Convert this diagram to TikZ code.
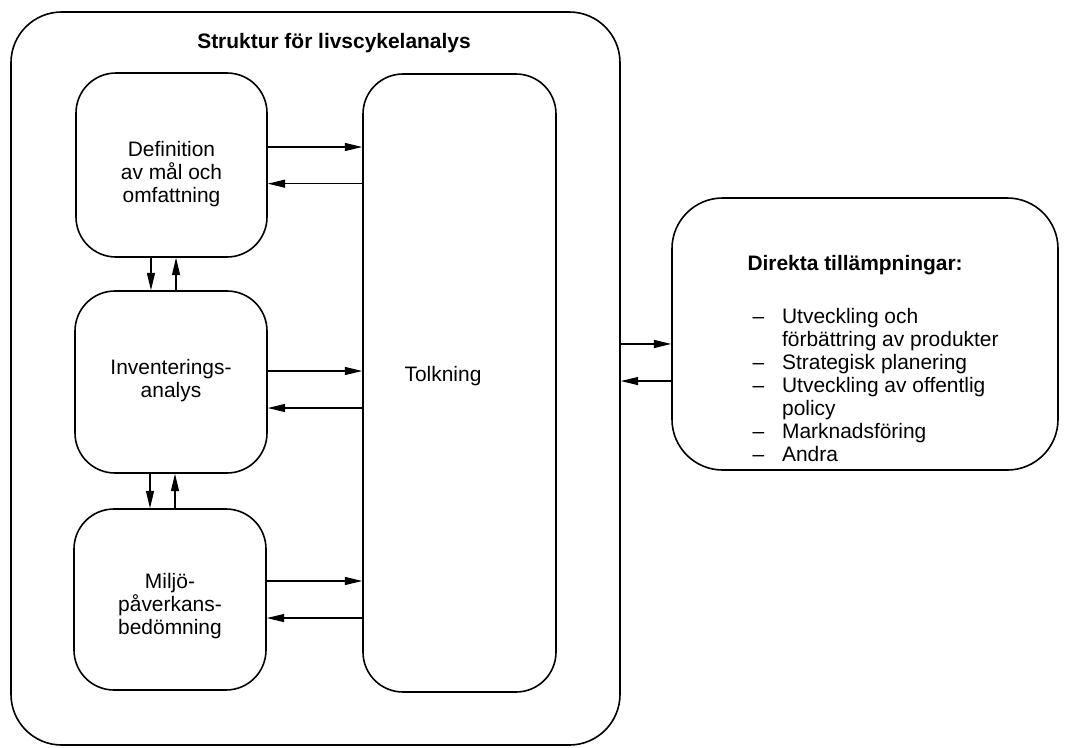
\documentclass[tikz,border=0pt]{standalone}
\usepackage{fontspec}
\setmainfont{Liberation Sans}
\usetikzlibrary{arrows.meta}
\tikzset{every picture/.style={line width=0.75pt}}
\newcommand{\lcafont}{\fontsize{15.7}{17.25}\selectfont}

\begin{document}
\begin{tikzpicture}[x=0.75pt,y=0.75pt,yscale=-1,xscale=1,
  box/.style={draw, line width=1.2pt, rounded corners=30pt, inner sep=0pt},
  lbl/.style={align=center, inner sep=0pt, font=\lcafont},
  arr/.style={-{Triangle[length=13pt,width=6pt]}, line width=0.9pt}]
\useasboundingbox (0,0) rectangle (1086,747);

%Shape: Rounded Rect [outer frame]
\node [box, rounded corners=38pt, minimum width=456.75pt, minimum height=549.75pt] (lca) at (315.5,378.5) {};
%Shape: Rounded Rect [definition]
\node [box, minimum width=143.25pt, minimum height=138pt] (def) at (171.5,165) {};
%Shape: Rounded Rect [inventory]
\node [box, minimum width=144pt, minimum height=136.5pt] (inv) at (171,382) {};
%Shape: Rounded Rect [impact]
\node [box, minimum width=144pt, minimum height=135.75pt] (imp) at (170,599.5) {};
%Shape: Rounded Rect [interpretation]
\node [box, minimum width=144.75pt, minimum height=463.5pt] (tolk) at (459.5,383) {};
%Shape: Rounded Rect [applications]
\node [box, rounded corners=38pt, minimum width=289.5pt, minimum height=204pt] (app) at (865,334) {};

%Straight Lines [definition <-> interpretation]
\draw [arr] ([yshift=-13.5pt]def.east) -- ([yshift=-13.5pt]def.east -| tolk.west);
\draw [arr] ([yshift=14pt]def.east -| tolk.west) -- ([yshift=14pt]def.east);
%Straight Lines [inventory <-> interpretation]
\draw [arr] ([yshift=-8.25pt]inv.east) -- ([yshift=-8.25pt]inv.east -| tolk.west);
\draw [arr] ([yshift=19.5pt]inv.east -| tolk.west) -- ([yshift=19.5pt]inv.east);
%Straight Lines [impact <-> interpretation]
\draw [arr] ([yshift=-13.9pt]imp.east) -- ([yshift=-13.9pt]imp.east -| tolk.west);
\draw [arr] ([yshift=13.9pt]imp.east -| tolk.west) -- ([yshift=13.9pt]imp.east);
%Straight Lines [definition <-> inventory]
\draw [arr] ([xshift=-15.4pt]def.south) -- ([xshift=-15.4pt]def.south |- inv.north);
\draw [arr] ([xshift=3.4pt]def.south |- inv.north) -- ([xshift=3.4pt]def.south);
%Straight Lines [inventory <-> impact]
\draw [arr] ([xshift=-15.75pt]inv.south) -- ([xshift=-15.75pt]inv.south |- imp.north);
\draw [arr] ([xshift=3pt]inv.south |- imp.north) -- ([xshift=3pt]inv.south);
%Straight Lines [frame <-> applications]
\draw [arr] ([yshift=-25.9pt]lca.east) -- ([yshift=-25.9pt]lca.east -| app.west);
\draw [arr] ([yshift=1.9pt]lca.east -| app.west) -- ([yshift=1.9pt]lca.east);

% Text Node
\node [lbl, font=\bfseries\lcafont] (lcatitle) at (334,43) {Struktur för livscykelanalys};
% Text Node
\node [lbl] (deftext) at (171.5,174) {Definition\\av mål och\\omfattning};
% Text Node
\node [lbl] (invtext) at (171,381) {Inventerings-\\analys};
% Text Node
\node [lbl] (imptext) at (170,606) {Miljö-\\påverkans-\\bedömning};
% Text Node
\node [lbl] (tolktext) at (443,376) {Tolkning};
% Text Node
\node [anchor=base west, inner sep=0pt, font=\bfseries\lcafont] (apptitle) at (747,270) {Direkta tillämpningar:};
% Text Node
\node [anchor=base west, inner sep=0pt, font=\lcafont] (applist) at (752,323)
  {\begin{tabular}[t]{@{}l@{\hspace{13.5pt}}l@{}}
   -- & Utveckling och\\
      & förbättring av produkter\\
   -- & Strategisk planering\\
   -- & Utveckling av offentlig\\
      & policy\\
   -- & Marknadsföring\\
   -- & Andra
   \end{tabular}};

\end{tikzpicture}
\end{document}
